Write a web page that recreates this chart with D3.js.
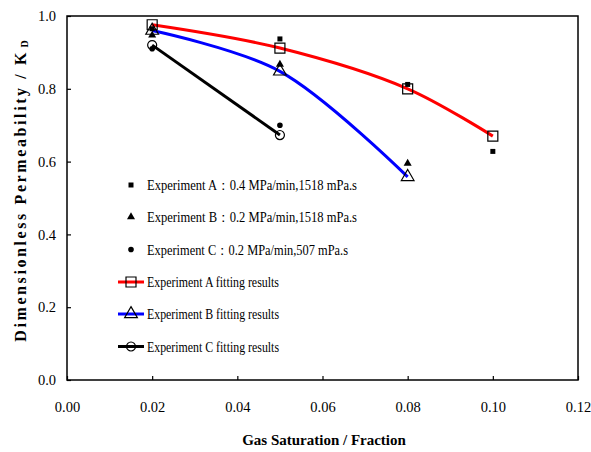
<!DOCTYPE html>
<html>
<head>
<meta charset="utf-8">
<script src="https://cdn.jsdelivr.net/npm/d3@7"></script>
<style>
body { margin: 0; background: #fff; }
text { font-family: "Liberation Serif", "Times New Roman", serif; fill: #000; }
</style>
</head>
<body>
<script>
// data
var satA = [0.02, 0.05, 0.08, 0.10];
var satB = [0.02, 0.05, 0.08];
var satC = [0.02, 0.05];
var expA = [0.965, 0.937, 0.812, 0.628];
var expB = [0.947, 0.867, 0.595];
var expC = [0.910, 0.700];
var fitA = [0.976, 0.912, 0.800, 0.670];
var fitB = [0.960, 0.848, 0.558];
var fitC = [0.920, 0.673];
var xTicks = [0, 0.02, 0.04, 0.06, 0.08, 0.10, 0.12];
var yTicks = [0, 0.2, 0.4, 0.6, 0.8, 1.0];
var legendLabels = [
  "Experiment  A\uff1a0.4 MPa/min,1518 mPa.s",
  "Experiment  B\uff1a0.2 MPa/min,1518 mPa.s",
  "Experiment  C\uff1a0.2 MPa/min,507 mPa.s",
  "Experiment  A fitting results",
  "Experiment  B fitting results",
  "Experiment  C fitting results"
];
var legendWidths = [210, 210, 201, 132, 132, 132];

var svgWidth = 591;
var svgHeight = 452;
var serif = "'Liberation Serif', 'Times New Roman', serif";

var svg = d3.select("body")
  .append("svg")
    .attr("width", svgWidth)
    .attr("height", svgHeight);

var x = d3.scaleLinear().domain([0, 0.12]).range([67, 578]);
var y = d3.scaleLinear().domain([0, 1]).range([380, 16]);

// plot frame
svg.append("rect")
  .attr("x", x(0)).attr("y", y(1))
  .attr("width", x(0.12) - x(0)).attr("height", y(0) - y(1))
  .attr("fill", "none").attr("stroke", "#000").attr("stroke-width", 1.5);

var xAxis = svg.append("g")
  .attr("transform", "translate(0," + y(0) + ")")
  .call(d3.axisBottom(x).tickValues(xTicks).tickSizeInner(-4).tickSizeOuter(0)
    .tickPadding(22).tickFormat(d3.format(".2f")));
var yAxis = svg.append("g")
  .attr("transform", "translate(" + x(0) + ",0)")
  .call(d3.axisLeft(y).tickValues(yTicks).tickSizeInner(-4).tickSizeOuter(0)
    .tickPadding(11).tickFormat(d3.format(".1f")));
[xAxis, yAxis].forEach(function(a) {
  a.select(".domain").remove();
  a.selectAll("line").attr("stroke", "#000").attr("stroke-width", 1.2);
  a.selectAll("text").attr("font-family", null).style("font-family", serif).style("font-size", "14.5px");
});

// axis titles
svg.append("text")
  .attr("x", 324).attr("y", 445)
  .attr("text-anchor", "middle")
  .style("font-family", serif)
  .style("font-weight", "bold").style("font-size", "15px")
  .text("Gas Saturation / Fraction");

var yt = svg.append("text")
  .attr("transform", "translate(26,191) rotate(-90)")
  .attr("text-anchor", "middle")
  .style("font-family", serif)
  .style("font-weight", "bold").style("font-size", "16px")
  .style("letter-spacing", "2.6px");
yt.append("tspan").text("Dimensionless Permeability / K");
yt.append("tspan").attr("dy", 2).style("font-size", "10px").style("letter-spacing", "0px").text(" D");

function pts(xs, ys) { return xs.map(function(v, i) { return [v, ys[i]]; }); }

var fits = [
  { d: pts(satA, fitA), color: "#ff0000", curve: d3.curveCatmullRom, sym: d3.symbolSquare, size: 100 },
  { d: pts(satB, fitB), color: "#0000ff", curve: d3.curveCatmullRom, sym: d3.symbolTriangle, size: 70 },
  { d: pts(satC, fitC), color: "#000000", curve: d3.curveLinear, sym: d3.symbolCircle, size: 64 }
];
var exps = [
  { d: pts(satA, expA), sym: d3.symbolSquare, size: 25 },
  { d: pts(satB, expB), sym: d3.symbolTriangle, size: 28 },
  { d: pts(satC, expC), sym: d3.symbolCircle, size: 25 }
];

fits.forEach(function(f) {
  var line = d3.line().x(function(d) { return x(d[0]); }).y(function(d) { return y(d[1]); }).curve(f.curve);
  svg.append("path").attr("d", line(f.d))
    .attr("fill", "none").attr("stroke", f.color).attr("stroke-width", 3);
});
fits.forEach(function(f) {
  svg.append("g").selectAll("path").data(f.d).enter().append("path")
    .attr("transform", function(d) { return "translate(" + x(d[0]) + "," + y(d[1]) + ")"; })
    .attr("d", d3.symbol().type(f.sym).size(f.size))
    .attr("fill", "none").attr("stroke", "#000").attr("stroke-width", 1.2);
});
exps.forEach(function(e) {
  svg.append("g").selectAll("path").data(e.d).enter().append("path")
    .attr("transform", function(d) { return "translate(" + x(d[0]) + "," + y(d[1]) + ")"; })
    .attr("d", d3.symbol().type(e.sym).size(e.size))
    .attr("fill", "#000");
});

// legend
var legY = [185, 217, 249.5, 282, 314, 346.5];
var leg = svg.append("g");
legendLabels.forEach(function(t, i) {
  var ly = legY[i];
  if (i < 3) {
    leg.append("path").attr("transform", "translate(131," + ly + ")")
      .attr("d", d3.symbol().type(exps[i].sym).size(exps[i].size)).attr("fill", "#000");
  } else {
    var f = fits[i - 3];
    leg.append("line").attr("x1", 118).attr("x2", 144).attr("y1", ly).attr("y2", ly)
      .attr("stroke", f.color).attr("stroke-width", 3);
    leg.append("path").attr("transform", "translate(131," + ly + ")")
      .attr("d", d3.symbol().type(f.sym).size(f.size))
      .attr("fill", "none").attr("stroke", "#000").attr("stroke-width", 1.2);
  }
  leg.append("text").attr("x", 147).attr("y", ly + 5)
    .attr("textLength", legendWidths[i]).attr("lengthAdjust", "spacingAndGlyphs")
    .style("font-family", serif)
    .style("font-size", "14px").text(t);
});
</script>
</body>
</html>
